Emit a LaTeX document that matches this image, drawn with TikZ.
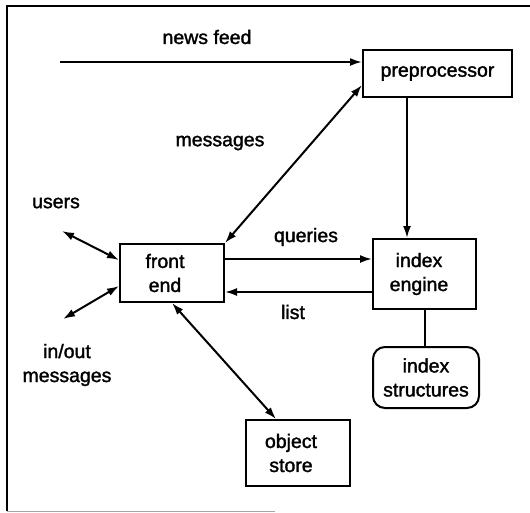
\documentclass[tikz,border=0pt]{standalone}
\usepackage{fontspec}
\setmainfont{Liberation Sans}[RawFeature={embolden=1.6}]
\usepackage{tikz}
\usetikzlibrary{arrows, arrows.meta, positioning, calc}

\newcommand{\pad}{\hspace*{14pt}}

\tikzset{
  box/.style={draw, line width=2pt, align=center, inner sep=0pt},
  lbl/.style={align=center, inner sep=0pt},
}

\begin{document}
\begin{tikzpicture}[x=1pt, y=-1pt, >={Latex[length=12pt,width=8pt]}, line width=2pt,
    font=\fontsize{19.5}{24}\selectfont]
  \useasboundingbox (0,0) rectangle (530,512);

  % frame round the figure (no right edge in the scan)
  \draw[line width=1.5pt] (530,6) -- (7,6) -- (7,511);
  \draw[line width=1pt, black!35] (7,511) -- (275,511);

  % the five boxes
  \node[box, minimum width=149pt, minimum height=47pt] (prep) at (437.5,73.5) {preprocessor};
  \node[box, minimum width=104pt, minimum height=58pt] (front) at (172,273) {front\pad\\end\pad};
  \node[box, minimum width=103pt, minimum height=70pt] (engine) at (424.5,274) {index\hspace*{11pt}\\engine\hspace*{11pt}};
  \node[box, rounded corners=12pt, minimum width=106pt, minimum height=61pt] (structs) at (426,377.5) {index\\structures};
  \node[box, minimum width=104pt, minimum height=66pt] (store) at (298,453) {object\pad\\store\pad};

  % free ends on the left
  \coordinate (feed) at (60,62);
  \coordinate (usr) at (62,231);
  \coordinate (io) at (63,319);

  % labels
  \node[lbl] (feedlbl) at (207,37) {news feed};
  \node[lbl] (msglbl) at (220,143) {messages};
  \node[lbl] (usrlbl) at (56,203) {users};
  \node[lbl] (qlbl) at (306,237) {queries};
  \node[lbl] (listlbl) at (293,312) {list};
  \node[lbl] (iolbl) at (67,365) {in/out\\messages};

  % news feed into the preprocessor
  \draw[->] (feed) -- (feed -| prep.west);

  % messages between preprocessor and front end
  \draw[<->] (front.north east) -- ([yshift=-11.5pt]prep.west);

  % preprocessor down to the index engine
  \draw[->] ([xshift=-30.5pt]prep.south) -- ([xshift=-30.5pt]prep.south |- engine.north);

  % queries and list
  \draw[->] ([yshift=14pt]front.east) -- ([yshift=14pt]front.east -| engine.west);
  \draw[<-] ([yshift=-19pt]front.east) -- ([yshift=-19pt]front.east -| engine.west);

  % index engine to its structures
  \draw (engine.south) -- (engine.south |- structs.north);

  % users and in/out messages
  \draw[<->] (usr) -- ([yshift=13pt]front.west);
  \draw[<->] (io) -- ([yshift=-13pt]front.west);

  % front end to object store
  \draw[<->] (front.south) -- ([xshift=-22pt]store.north);
\end{tikzpicture}
\end{document}
